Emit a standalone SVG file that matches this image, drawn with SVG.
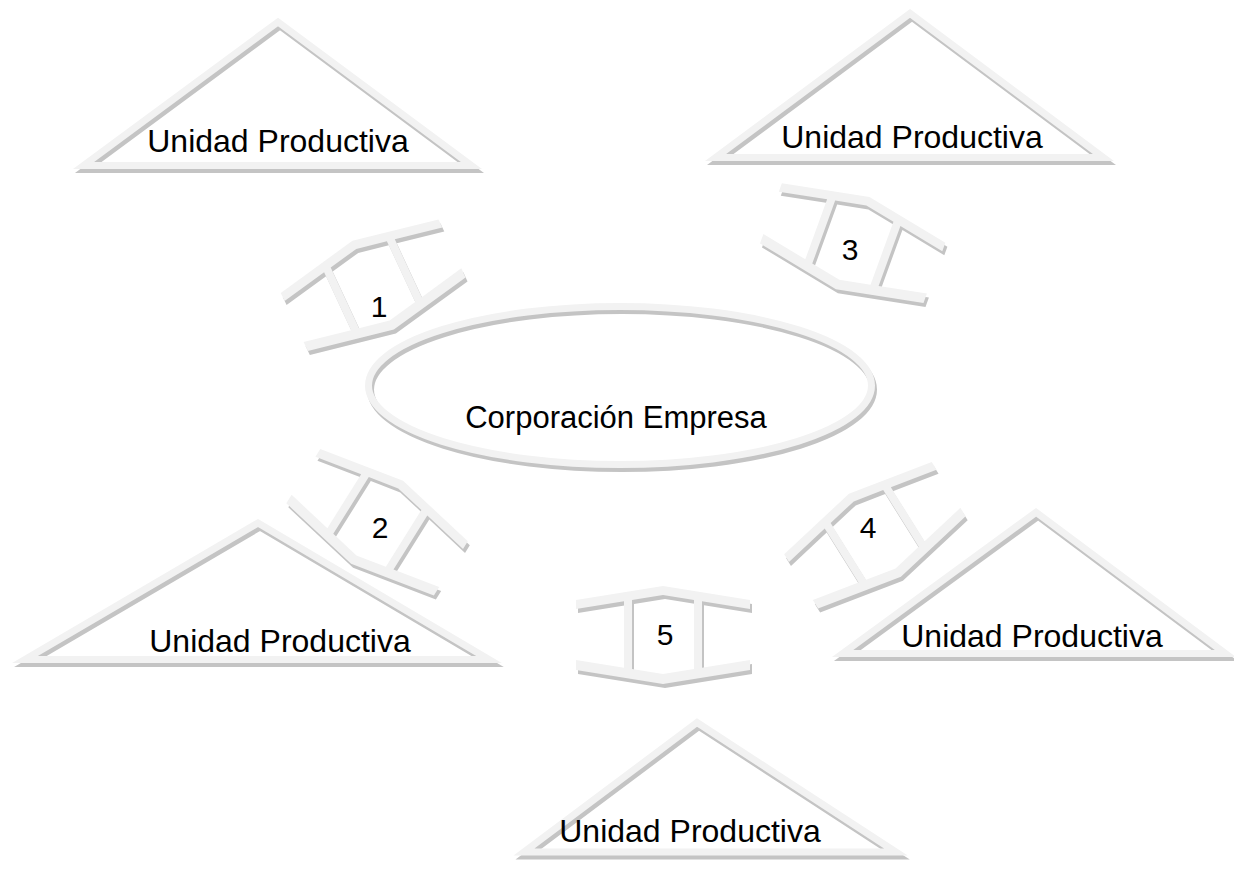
<svg xmlns="http://www.w3.org/2000/svg" xmlns:xlink="http://www.w3.org/1999/xlink" width="1234" height="886" viewBox="0 0 1234 886">
<style>
.hl{fill:none;stroke:#f2f2f2;stroke-width:7;stroke-linejoin:miter;stroke-miterlimit:10}
.sh{fill:none;stroke:#c4c4c4;stroke-width:7;stroke-linejoin:miter;stroke-miterlimit:10}
.bh{fill:#f2f2f2;fill-rule:evenodd}
.bs{fill:#c4c4c4;fill-rule:evenodd}
text{font-family:"Liberation Sans",Arial,sans-serif;fill:#000;text-anchor:middle}
.lbl{font-size:32px}
.num{font-size:30px}
</style>
<defs>
<path id="beamA" d="M-87,-37 L0,-51 L87,-37 L87,-28 L39,-35.7 L39,30.7 L87,23 L87,33 L0,47 L-87,33 L-87,23 L-39,30.7 L-39,-35.7 L-87,-28 Z M-31,-37 L0,-42 L31,-37 L31,32 L0,37 L-31,32 Z"/>
<path id="beamB" d="M-87,-34 L0,-51 L87,-34 L87,-25 L39,-34.4 L39,29.4 L87,20 L87,30 L0,47 L-87,30 L-87,20 L-39,29.4 L-39,-34.4 L-87,-25 Z M-31,-36 L0,-42 L31,-36 L31,31 L0,37 L-31,31 Z"/>
</defs>
<rect width="1234" height="886" fill="#fff"/>

<g id="unidad1">
<polygon class="sh" transform="translate(2,4)" points="278,22 471.4,165.5 83.6,165.5"/>
<polygon class="hl" points="278,22 471.4,165.5 83.6,165.5"/>
<text class="lbl" x="278" y="152">Unidad Productiva</text>
</g>

<g id="unidad2">
<polygon class="sh" transform="translate(2,4)" points="910,13.4 1103.4,157.5 715.6,157.5"/>
<polygon class="hl" points="910,13.4 1103.4,157.5 715.6,157.5"/>
<text class="lbl" x="912" y="148">Unidad Productiva</text>
</g>

<g id="unidad3">
<polygon class="sh" transform="translate(2,4)" points="258,523 489,659.5 25,659.5"/>
<polygon class="hl" points="258,523 489,659.5 25,659.5"/>
<text class="lbl" x="280" y="652">Unidad Productiva</text>
</g>

<g id="unidad4">
<polygon class="sh" transform="translate(2,4)" points="1036,512.3 1225.3,653.5 842.7,653.5"/>
<polygon class="hl" points="1036,512.3 1225.3,653.5 842.7,653.5"/>
<text class="lbl" x="1032" y="647">Unidad Productiva</text>
</g>

<g id="unidad5">
<polygon class="sh" transform="translate(2,4)" points="697,722.5 896,852 524,852"/>
<polygon class="hl" points="697,722.5 896,852 524,852"/>
<text class="lbl" x="690" y="842">Unidad Productiva</text>
</g>

<g id="corporacion">
<ellipse class="sh" cx="622" cy="389.5" rx="251.5" ry="79"/>
<ellipse class="hl" cx="620" cy="385.5" rx="251.5" ry="79"/>
<text style="font-size:31px" x="616" y="428">Corporación Empresa</text>
</g>

<g id="connectors">
<g id="conn1">
<use xlink:href="#beamB" class="bs" transform="translate(376,291) rotate(-25)"/>
<use xlink:href="#beamB" class="bh" transform="translate(374,287) rotate(-25)"/>
<text class="num" x="379" y="317">1</text>
</g>
<g id="conn2">
<use xlink:href="#beamB" class="bs" transform="translate(378,528) rotate(32)"/>
<use xlink:href="#beamB" class="bh" transform="translate(376,524) rotate(32)"/>
<text class="num" x="380" y="538">2</text>
</g>
<g id="conn3">
<use xlink:href="#beamB" class="bs" transform="translate(854,249) rotate(20)"/>
<use xlink:href="#beamB" class="bh" transform="translate(852,245) rotate(20)"/>
<text class="num" x="850" y="260">3</text>
</g>
<g id="conn4">
<use xlink:href="#beamB" class="bs" transform="translate(878,541) rotate(-32)"/>
<use xlink:href="#beamB" class="bh" transform="translate(876,537) rotate(-32)"/>
<text class="num" x="868" y="538">4</text>
</g>
<g id="conn5">
<use xlink:href="#beamA" class="bs" transform="translate(665,641)"/>
<use xlink:href="#beamA" class="bh" transform="translate(663,637)"/>
<text class="num" x="665" y="645">5</text>
</g>
</g>
</svg>
